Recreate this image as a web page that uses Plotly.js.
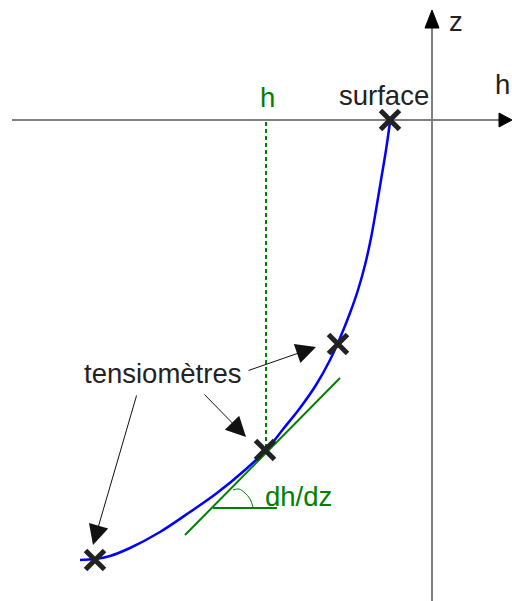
<!DOCTYPE html>
<html><head><meta charset="utf-8">
<script src="https://cdn.plot.ly/plotly-3.0.1.min.js"></script>
<style>html,body{margin:0;padding:0;background:#fff}</style>
</head><body>
<div id="chart" style="width:512px;height:601px"></div>
<script>
// Diagram coordinates (1 unit = 1 px, z downward)
const curveH = [390, 386, 381, 376, 371, 365, 358, 350, 340, 330, 316, 300, 284, 267, 245, 217, 190, 160, 130, 110, 95, 80];
const curveZ = [122, 150, 180, 210, 238, 265, 290, 313, 338, 360, 385, 408, 428, 449, 470, 493, 512, 532, 548, 556, 559, 560];
const sensorH = [390, 338, 265, 95];
const sensorZ = [120, 344, 450, 560];
const tangentH = [185, 340];
const tangentZ = [535, 378];
const horizH = [213, 277];
const horizZ = [508, 508];
const arcH = [233, 239, 245, 250, 253];
const arcZ = [490, 489, 493, 499, 507];
const hLineH = [266, 266];
const hLineZ = [122, 450];
const axisHH = [12, 502];
const axisHZ = [120, 120];
const axisZH = [432, 432];
const axisZZ = [601, 26];
const headRightH = [499, 512, 499, 499];
const headRightZ = [113, 120, 127, 113];
const headTopH = [425, 432, 439, 425];
const headTopZ = [28, 10, 28, 28];
const arrowTail = [[247, 371], [203, 393], [137, 394]];
const arrowTip = [[316, 347], [246, 437], [93, 545]];
const labels = [
  {text: 'tensiomètres', x: 162, y: 373, color: '#222', anchor: 'center'},
  {text: 'surface', x: 384, y: 95, color: '#222', anchor: 'center'},
  {text: 'z', x: 456, y: 21, color: '#222', anchor: 'center'},
  {text: 'h', x: 512, y: 84, color: '#222', anchor: 'right'},
  {text: 'h', x: 267, y: 97, color: '#008000', anchor: 'center'},
  {text: 'dh/dz', x: 298, y: 496, color: '#008000', anchor: 'center'}
];

const traces = [
  {x: axisHH, y: axisHZ, mode: 'lines', line: {color: '#808080', width: 2}},
  {x: axisZH, y: axisZZ, mode: 'lines', line: {color: '#808080', width: 2}},
  {x: headRightH, y: headRightZ, mode: 'lines', fill: 'toself', fillcolor: '#000', line: {color: '#000', width: 1}},
  {x: headTopH, y: headTopZ, mode: 'lines', fill: 'toself', fillcolor: '#000', line: {color: '#000', width: 1}},
  {x: hLineH, y: hLineZ, mode: 'lines', line: {color: '#008000', width: 2, dash: '4px,3px'}},
  {x: tangentH, y: tangentZ, mode: 'lines', line: {color: '#008000', width: 2}},
  {x: horizH, y: horizZ, mode: 'lines', line: {color: '#008000', width: 2}},
  {x: arcH, y: arcZ, mode: 'lines', line: {color: '#008000', width: 1, shape: 'spline'}},
  {x: curveH, y: curveZ, mode: 'lines', line: {color: '#0000ff', width: 2.5, shape: 'spline'}},
  {x: sensorH, y: sensorZ, mode: 'markers', marker: {symbol: 'x-thin-open', size: 19, line: {color: '#222', width: 5}, color: '#222'}}
];

const annotations = labels.map(l => ({
  text: l.text, x: l.x, y: l.y, xref: 'x', yref: 'y', showarrow: false, xanchor: l.anchor,
  font: {family: 'Liberation Sans, Arial, sans-serif', size: 27.5, color: l.color}
}));
arrowTail.forEach((t, i) => {
  annotations.push({
    x: arrowTip[i][0], y: arrowTip[i][1], ax: t[0], ay: t[1],
    xref: 'x', yref: 'y', axref: 'x', ayref: 'y', text: '', showarrow: true,
    arrowhead: 2, arrowsize: 4, arrowwidth: 1, arrowcolor: '#111', standoff: 0
  });
});

const layout = {
  width: 512, height: 601,
  margin: {l: 0, r: 0, t: 0, b: 0},
  paper_bgcolor: '#fff', plot_bgcolor: '#fff',
  showlegend: false,
  xaxis: {range: [0, 512], visible: false, fixedrange: true},
  yaxis: {range: [601, 0], visible: false, fixedrange: true},
  annotations: annotations
};
Plotly.newPlot('chart', traces, layout, {displayModeBar: false, staticPlot: true});
</script>
</body></html>
